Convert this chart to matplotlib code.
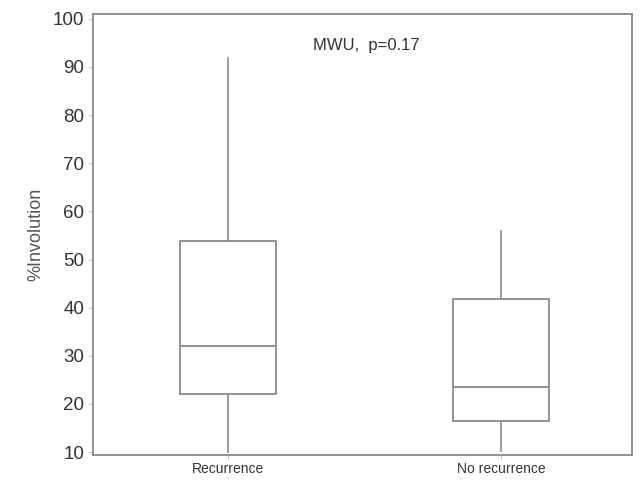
import matplotlib
matplotlib.use('Agg')
import matplotlib.pyplot as plt

groups = ['Recurrence', 'No recurrence']
whislo = [10.0, 10.2]
q1 = [22.0, 16.4]
med = [32.0, 23.6]
q3 = [53.8, 41.8]
whishi = [91.9, 55.9]

plt.rcParams['font.family'] = ['Liberation Sans', 'DejaVu Sans']

stats = []
for i in range(len(groups)):
    stats.append(dict(label=groups[i], whislo=whislo[i], q1=q1[i], med=med[i],
                      q3=q3[i], whishi=whishi[i], fliers=[]))

fig = plt.figure(figsize=(6.4, 4.8), dpi=100)
ax = fig.add_axes([0.145, 0.052, 0.8425, 0.919])

gray = '#8a8a8a'
ax.bxp(stats, positions=[1, 2], widths=0.35, showcaps=False, showfliers=False,
       boxprops=dict(color=gray, linewidth=1.3),
       whiskerprops=dict(color=gray, linewidth=1.2),
       medianprops=dict(color=gray, linewidth=1.3))

ax.set_xlim(0.505, 2.48)
ax.set_ylim(9.4, 101)
ax.set_yticks(range(10, 101, 10))
ax.tick_params(axis='y', labelsize=13.5, colors='#333333', color='#bbbbbb', length=3, pad=3)
ax.tick_params(axis='x', labelsize=10, colors='#333333', color='#bbbbbb', length=3, pad=2)
for s in ax.spines.values():
    s.set_color(gray)
    s.set_linewidth(1.3)

ax.set_ylabel('%Involution', fontsize=13, color='#555555', labelpad=6)
ax.text(1.505, 94.4, 'MWU,  p=0.17', fontsize=12, color='#333333', ha='center', va='center')

fig.savefig('out.png', dpi=100)
